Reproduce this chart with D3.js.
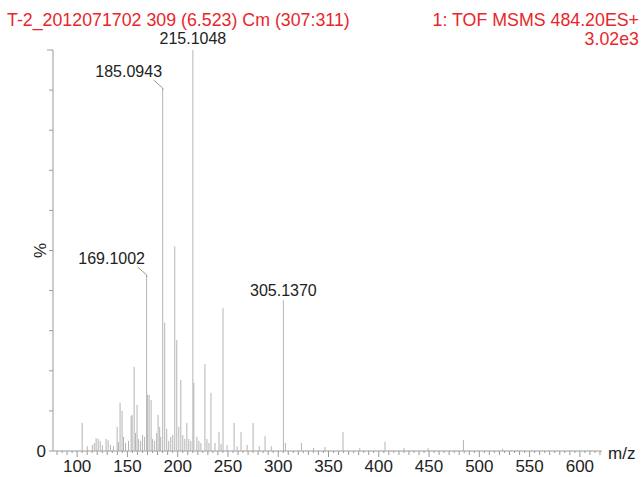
<!DOCTYPE html>
<html lang="en">
  <head>
    <meta charset="UTF-8" />
    <title>T-2 MSMS spectrum</title>
    <script src="https://d3js.org/d3.v7.min.js"></script>
    <style>
      body {
        margin: 0;
        background: #fff;
        font-family: "Liberation Sans", Arial, sans-serif;
      }
      .peak {
        stroke: #b4b4b4;
        stroke-width: 1;
      }
      .ann {
        fill: #222;
        font-size: 16px;
      }
      .head {
        fill: #e8262a;
        font-size: 17.8px;
      }
      .axis-line {
        stroke: #9a9a9a;
      }
      .tick-label {
        fill: #222;
        font-size: 17px;
      }
    </style>
  </head>
  <body>
    <svg id="chart" width="644" height="477"></svg>

    <script>
      // peaks (m/z, relative intensity %)
      const mzValues = [
        105.0, 110.1, 115.1, 117.1, 118.9, 120.9, 122.9, 125.1, 128.8, 130.8, 133.1, 136.1,
        139.8, 141.1, 142.7, 144.7, 146.1, 148.1, 151.1, 153.7, 154.7, 156.7, 158.1, 159.6,
        161.1, 163.1, 165.1, 167.1, 169.1, 170.1, 171.6, 173.6, 175.1, 177.1, 179.1, 180.5,
        182.1, 183.1, 185.09, 187.1, 189.1, 191.1, 193.1, 195.1, 197.1, 199.1, 201.1, 203.1,
        205.1, 207.1, 209.1, 211.1, 213.1, 215.1, 216.1, 219.1, 221.1, 223.1, 227.1, 229.1,
        231.1, 233.1, 237.1, 241.1, 243.1, 245.1, 249.1, 256.1, 259.1, 263.0, 269.1, 275.0,
        281.1, 286.9, 293.1, 305.14, 307.1, 323.1, 335.1, 346.5, 364.4, 381.1, 406.2, 425.1,
        449.1, 484.2, 523.1
      ];
      const intensities = [
        7.0, 1.2, 1.5, 2.0, 3.2, 3.0, 2.5, 1.4, 3.0, 2.7, 1.5, 1.2,
        6.0, 2.2, 12.0, 10.0, 3.5, 2.0, 2.5, 8.7, 9.0, 21.0, 4.5, 11.5,
        3.0, 2.5, 4.0, 3.5, 43.9, 14.0, 14.0, 12.7, 3.0, 2.5, 4.5, 9.0,
        6.0, 3.5, 90.5, 32.0, 5.5, 2.5, 3.5, 4.0, 51.0, 27.7, 6.0, 17.7,
        4.0, 3.0, 7.0, 3.0, 2.5, 100.0, 17.0, 3.5, 2.5, 2.0, 21.7, 3.0,
        2.0, 14.5, 2.0, 4.7, 1.8, 35.7, 1.5, 7.0, 1.2, 4.7, 1.5, 7.0,
        1.2, 3.7, 1.2, 37.6, 2.0, 2.0, 0.8, 1.0, 4.7, 0.8, 2.3, 0.8,
        0.7, 2.7, 0.6
      ];

      // labelled peaks
      const labelMz = [215.1048, 185.0943, 169.1002, 305.137];
      const labelText = ["215.1048", "185.0943", "169.1002", "305.1370"];
      const labelIntensity = [100, 90.5, 43.9, 37.6];

      const xTicks = [100, 150, 200, 250, 300, 350, 400, 450, 500, 550, 600];
      const yTicks = [0, 10, 20, 30, 40, 50, 60, 70, 80, 90, 100];

      const titleLeft = "T-2_2012071702 309 (6.523) Cm (307:311)";
      const titleRight = "1: TOF MSMS 484.20ES+";
      const titleScale = "3.02e3";

      const svg = d3.select("#chart");

      const x = d3.scaleLinear().domain([76, 622]).range([53, 602]);
      const y = d3.scaleLinear().domain([0, 100]).range([451, 50]);

      // headers
      svg.append("text").attr("class", "head").attr("x", 7).attr("y", 26).text(titleLeft);
      svg.append("text").attr("class", "head").attr("x", 639).attr("y", 26).attr("text-anchor", "end").text(titleRight);
      svg.append("text").attr("class", "head").attr("x", 639).attr("y", 45).attr("text-anchor", "end").text(titleScale);

      // y axis
      svg.append("line").attr("class", "axis-line").attr("x1", x(76)).attr("x2", x(76)).attr("y1", y(100)).attr("y2", y(0));
      svg
        .selectAll(".ytick")
        .data(yTicks)
        .enter()
        .append("line")
        .attr("class", "axis-line")
        .attr("x1", (d) => x(76) - (d === 100 ? 6 : 4))
        .attr("x2", x(76))
        .attr("y1", (d) => y(d))
        .attr("y2", (d) => y(d));
      svg.append("text").attr("class", "tick-label").attr("x", 46).attr("y", y(0) + 6).attr("text-anchor", "end").text("0");
      svg
        .append("text")
        .attr("class", "tick-label")
        .attr("transform", `translate(46, ${y(50)}) rotate(-90)`)
        .attr("text-anchor", "middle")
        .text("%");

      // x axis with minor ticks
      svg.append("line").attr("class", "axis-line").attr("x1", x(76)).attr("x2", x(622)).attr("y1", y(0)).attr("y2", y(0));
      const minor = d3.range(80, 621, 5);
      svg
        .selectAll(".xminor")
        .data(minor)
        .enter()
        .append("line")
        .attr("class", "axis-line")
        .attr("x1", (d) => x(d))
        .attr("x2", (d) => x(d))
        .attr("y1", y(0))
        .attr("y2", (d) => y(0) + (d % 50 === 0 ? 6 : d % 10 === 0 ? 4 : 2));
      svg
        .selectAll(".xlabel")
        .data(xTicks)
        .enter()
        .append("text")
        .attr("class", "tick-label")
        .attr("x", (d) => x(d))
        .attr("y", 472)
        .attr("text-anchor", "middle")
        .text((d) => d);
      svg.append("text").attr("class", "tick-label").attr("x", 608).attr("y", 459).text("m/z");

      // peaks
      const peaks = mzValues.map((m, i) => ({ mz: m, v: intensities[i] }));
      svg
        .selectAll(".peak")
        .data(peaks)
        .enter()
        .append("line")
        .attr("class", "peak")
        .attr("x1", (d) => x(d.mz))
        .attr("x2", (d) => x(d.mz))
        .attr("y1", y(0))
        .attr("y2", (d) => y(d.v));

      // annotations: offset from peak top, with leader line when offset
      const annLayout = [
        { dx: 0, dy: -6, lead: false },
        { dx: -34, dy: -11, lead: true },
        { dx: -35, dy: -11, lead: true },
        { dx: 0, dy: -4, lead: false }
      ];
      labelMz.forEach((m, i) => {
        const px = x(m);
        const py = y(labelIntensity[i]);
        const a = annLayout[i];
        if (a.lead) {
          svg
            .append("polyline")
            .attr("fill", "none")
            .attr("stroke", "#999")
            .attr("points", `${px - 9},${py - 8} ${px},${py} ${px},${py + 2}`);
        }
        svg
          .append("text")
          .attr("class", "ann")
          .attr("x", px + a.dx)
          .attr("y", py + a.dy)
          .attr("text-anchor", "middle")
          .text(labelText[i]);
      });
    </script>
  </body>
</html>
